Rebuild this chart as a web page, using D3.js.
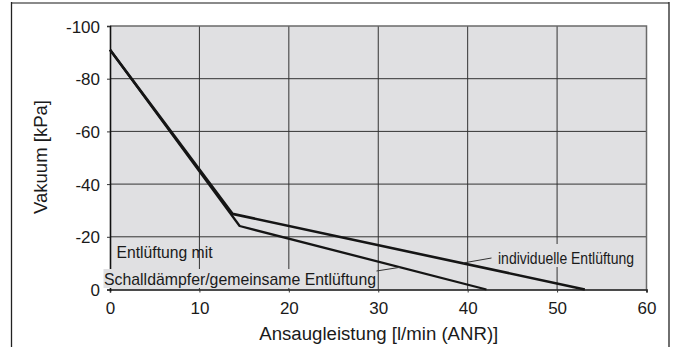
<!DOCTYPE html>
<html><head><meta charset="utf-8">
<script src="https://cdn.jsdelivr.net/npm/d3@7"></script>
<style>body{margin:0;background:#fff}svg{display:block}text{font-family:"Liberation Sans",Arial,sans-serif;fill:#1a1a1a}</style>
</head><body>
<script>
const xTicks = [0, 10, 20, 30, 40, 50, 60];
const yTicks = [0, -20, -40, -60, -80, -100];
const individuellQ = [0, 13.7, 53.1];
const individuellP = [-91, -28.7, 0];
const gemeinsamQ = [0, 14.5, 42.1];
const gemeinsamP = [-91, -24.1, 0];
const xTitle = "Ansaugleistung [l/min (ANR)]";
const yTitle = "Vakuum [kPa]";
const labelIndividuell = "individuelle Entlüftung";
const labelGemeinsam1 = "Entlüftung mit";
const labelGemeinsam2 = "Schalldämpfer/gemeinsame Entlüftung";

const W = 675, H = 347;
const svg = d3.select("body").append("svg").attr("width", W).attr("height", H);
const x = d3.scaleLinear().domain([0, 60]).range([110, 646.5]);
const y = d3.scaleLinear().domain([0, -100]).range([289.5, 26]);

// outer frame (open at bottom)
svg.append("line").attr("x1", 11.5).attr("x2", 669).attr("y1", 3).attr("y2", 3).attr("stroke", "#8a8a8a").attr("stroke-width", 2);
svg.append("line").attr("x1", 11.5).attr("x2", 11.5).attr("y1", 2).attr("y2", H).attr("stroke", "#222").attr("stroke-width", 1.3);
svg.append("line").attr("x1", 669).attr("x2", 669).attr("y1", 2).attr("y2", H).attr("stroke", "#222").attr("stroke-width", 1.3);

// plot background
svg.append("rect").attr("x", x(0)).attr("y", y(-100)).attr("width", x(60) - x(0)).attr("height", y(0) - y(-100)).attr("fill", "#e0e0e2");

// grid
const g = svg.append("g");
g.selectAll(".vx").data(xTicks.slice(1, -1)).join("line")
  .attr("x1", d => x(d)).attr("x2", d => x(d)).attr("y1", y(-100)).attr("y2", y(0))
  .attr("stroke", "#333").attr("stroke-width", 1);
g.selectAll(".hy").data(yTicks.slice(1, -1)).join("line")
  .attr("x1", x(0)).attr("x2", x(60)).attr("y1", d => y(d)).attr("y2", d => y(d))
  .attr("stroke", "#333").attr("stroke-width", 1);
// top/right border
svg.append("path").attr("d", `M${x(0)},${y(-100)}H${x(60)}V${y(0)}`).attr("fill", "none").attr("stroke", "#6a6a6a").attr("stroke-width", 1.5);

// axes
const xAxis = d3.axisBottom(x).tickValues(xTicks).tickSize(3).tickFormat(d => String(d));
const yAxis = d3.axisLeft(y).tickValues(yTicks).tickSize(3).tickPadding(7).tickFormat(d => String(d));
const xa = svg.append("g").attr("transform", `translate(0,${y(0)})`).call(xAxis);
const ya = svg.append("g").attr("transform", `translate(${x(0)},0)`).call(yAxis);
[xa, ya].forEach(a => {
  a.attr("font-family", null).attr("font-size", null);
  a.select(".domain").attr("stroke", "#111").attr("stroke-width", 1.6);
  a.selectAll(".tick line").attr("stroke", "#333");
  a.selectAll("text").style("font-size", "17px").attr("fill", "#1a1a1a");
});
xa.selectAll("text").attr("y", 24).attr("dy", null);
ya.selectAll("text").attr("dy", "0.36em");

// series
const line = d3.line().x(d => x(d[0])).y(d => y(d[1]));
svg.append("path").datum(gemeinsamQ.map((q, i) => [q, gemeinsamP[i]]))
  .attr("d", line).attr("fill", "none").attr("stroke", "#151515").attr("stroke-width", 2.3).attr("stroke-linejoin", "round");
svg.append("path").datum(individuellQ.map((q, i) => [q, individuellP[i]]))
  .attr("d", line).attr("fill", "none").attr("stroke", "#151515").attr("stroke-width", 2.6).attr("stroke-linejoin", "round");

// annotations
svg.append("rect").attr("x", 495).attr("y", 244).attr("width", 141).attr("height", 23).attr("fill", "#e0e0e2");
svg.append("text").attr("x", 498).attr("y", 263.5).style("font-size", "17px")
  .attr("textLength", 136).attr("lengthAdjust", "spacingAndGlyphs").text(labelIndividuell);
svg.append("line").attr("x1", 491.5).attr("y1", 258).attr("x2", 463).attr("y2", 263).attr("stroke", "#333").attr("stroke-width", 1);

svg.append("text").attr("x", 116.5).attr("y", 257.5).style("font-size", "17px")
  .attr("textLength", 96).attr("lengthAdjust", "spacingAndGlyphs").text(labelGemeinsam1);
svg.append("rect").attr("x", 103.5).attr("y", 269).attr("width", 273.5).attr("height", 19).attr("fill", "#e0e0e2");
svg.append("text").attr("x", 104).attr("y", 285).style("font-size", "17px")
  .attr("textLength", 272).attr("lengthAdjust", "spacingAndGlyphs").text(labelGemeinsam2);
svg.append("line").attr("x1", 376.5).attr("y1", 271).attr("x2", 400).attr("y2", 267.3).attr("stroke", "#333").attr("stroke-width", 1);

// axis titles
svg.append("text").attr("x", 378.8).attr("y", 340).attr("text-anchor", "middle")
  .style("font-size", "18px").attr("textLength", 239).attr("lengthAdjust", "spacingAndGlyphs").text(xTitle);
svg.append("text").attr("transform", `translate(47,157) rotate(-90)`).attr("text-anchor", "middle")
  .style("font-size", "18px").attr("textLength", 114).attr("lengthAdjust", "spacingAndGlyphs").text(yTitle);
</script>
</body></html>
